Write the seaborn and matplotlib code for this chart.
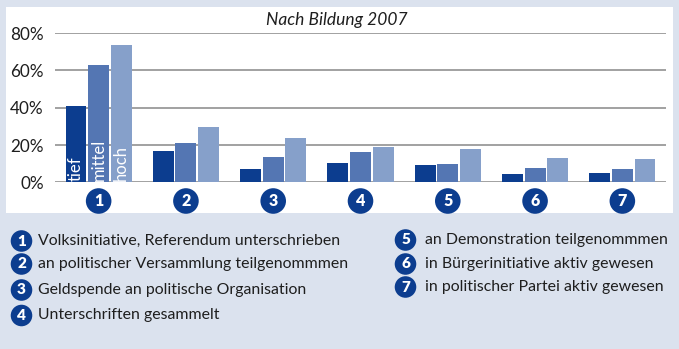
import matplotlib
matplotlib.use("Agg")
import matplotlib.pyplot as plt
import matplotlib.patches as mpatches
import numpy as np
import pandas as pd
import seaborn as sns

# Political participation by education level, 2007 (share in %)
activities = ["1", "2", "3", "4", "5", "6", "7"]
levels = ["tief", "mittel", "hoch"]
tief = [41, 17, 7, 10.3, 9.2, 4.7, 5.1]
mittel = [63, 21, 13.6, 16.1, 10, 7.8, 7.1]
hoch = [73.5, 29.5, 23.8, 19, 17.7, 12.9, 12.4]
legend_texts = [
    "Volksinitiative, Referendum unterschrieben",
    "an politischer Versammlung teilgenommmen",
    "Geldspende an politische Organisation",
    "Unterschriften gesammelt",
    "an Demonstration teilgenommmen",
    "in Bürgerinitiative aktiv gewesen",
    "in politischer Partei aktiv gewesen",
]
title = "Nach Bildung 2007"

colors = ["#0c3d8f", "#5476b3", "#86a0ca"]
dark = "#0c3d8f"
bg = "#dbe2ee"
txt_color = "#1e1e1e"

df = pd.DataFrame({
    "activity": activities * 3,
    "level": [levels[0]] * 7 + [levels[1]] * 7 + [levels[2]] * 7,
    "value": tief + mittel + hoch,
})

sns.set_theme(style="white")
plt.rcParams["font.family"] = ["Lato", "DejaVu Sans"]

W, H = 679, 349
fig = plt.figure(figsize=(W / 100, H / 100), dpi=100, facecolor=bg)

# white chart panel behind the axes
fig.patches.append(mpatches.Rectangle((6 / W, 1 - 213 / H), 667 / W, 206 / H,
                                      transform=fig.transFigure, facecolor="white",
                                      edgecolor="none", zorder=-1))

ax = fig.add_axes([55 / W, 1 - 182.5 / H, 611 / W, 149.5 / H])
ax.set_facecolor("none")
sns.barplot(data=df, x="activity", y="value", hue="level", hue_order=levels,
            palette=colors, width=0.78, gap=0.08, ax=ax, legend=False,
            edgecolor="none", linewidth=0, zorder=3, saturation=1)

ax.set_xlim(-0.5, 6.5)
ax.set_ylim(0, 80)
ax.set_yticks([0, 20, 40, 60, 80])
ax.set_yticklabels([f"{v}%" for v in [0, 20, 40, 60, 80]], fontsize=12.3, color=txt_color)
ax.tick_params(axis="y", length=0, pad=8)
ax.set_xticks([])
ax.set_xlabel("")
ax.set_ylabel("")
for s in ax.spines.values():
    s.set_visible(False)
for v in [0, 20, 40, 60, 80]:
    ax.axhline(v, color="#9a9a9a", lw=1.3, zorder=1)

# level names written vertically inside the first group's bars
for cont, name in zip(ax.containers, levels):
    bar = cont.patches[0]
    ax.text(bar.get_x() + bar.get_width() / 2, 1.0, name, rotation=90,
            ha="center", va="bottom", color="white", fontsize=12, zorder=4)

# circled activity numbers under the groups
for i, a in enumerate(activities):
    ax.text(i, -9.9, a, ha="center", va="center", color="white", fontsize=11.5,
            fontweight="heavy", clip_on=False,
            bbox=dict(boxstyle="circle,pad=0.3", fc=dark, ec="none"))

fig.text(337 / W, 1 - 20 / H, title, ha="center", va="center",
         fontsize=12.5, style="italic", color=txt_color)

# legend of the activities in two columns
rows_left = [241, 264, 290, 315.5]
rows_right = [240, 264, 287]
for k, txt in enumerate(legend_texts):
    if k < 4:
        cx, cy, tx = 21.5, rows_left[k], 38
    else:
        cx, cy, tx = 405.5, rows_right[k - 4], 425
    fig.text(cx / W, 1 - cy / H, activities[k], ha="center", va="center",
             color="white", fontsize=11, fontweight="heavy",
             bbox=dict(boxstyle="circle,pad=0.28", fc=dark, ec="none"))
    fig.text(tx / W, 1 - cy / H, txt, ha="left", va="center",
             fontsize=11.4, color=txt_color)

fig.savefig("out.png", dpi=100, facecolor=bg)
